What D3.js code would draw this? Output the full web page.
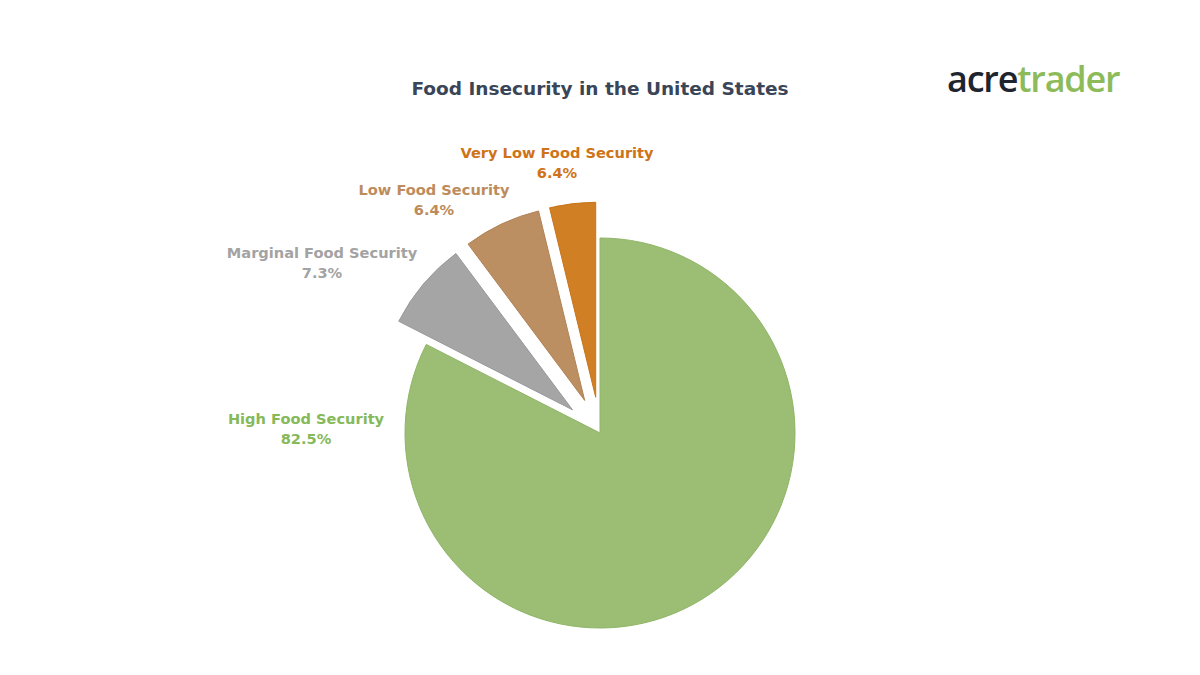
<!DOCTYPE html>
<html>
<head>
<meta charset="utf-8">
<script src="https://cdn.jsdelivr.net/npm/d3@7"></script>
<style>
  body { margin: 0; background: #fff; }
  text { font-family: "DejaVu Sans", sans-serif; font-weight: 700; }
</style>
</head>
<body>
<script>
// data
const categories = ['High Food Security', 'Marginal Food Security', 'Low Food Security', 'Very Low Food Security'];
const values = [82.5, 7.3, 6.4, 3.8];
// the labels as printed on the chart (very low says 6.4% even though the slice is smaller)
const valueLabels = ['82.5%', '7.3%', '6.4%', '6.4%'];
const fills = ['#9bbd74', '#a5a5a5', '#bc8f62', '#d17f25'];
const strokes = ['#8fb566', '#999999', '#b08255', '#c87418'];
const labelColors = ['#86b95a', '#a3a3a3', '#bd8c5c', '#cf7318'];

const width = 1200,
  height = 675;
const cx = 600,
  cy = 433,
  radius = 195,
  explode = 36;

// label anchors, relative to the pie center [dx, baseline dy]
const labelAnchors = [
  [-294, -9],
  [-278, -175],
  [-166, -238],
  [-43, -275],
];

const svg = d3
  .select('body')
  .append('svg')
  .attr('width', width)
  .attr('height', height);

svg
  .append('text')
  .attr('x', 600)
  .attr('y', 95)
  .attr('text-anchor', 'middle')
  .attr('fill', '#3a4557')
  .attr('font-size', 18.5)
  .text('Food Insecurity in the United States');

// logo
const logo = svg
  .append('text')
  .attr('x', 947)
  .attr('y', 92)
  .attr('font-size', 36)
  .attr('letter-spacing', -1.2)
  .style('font-family', '"Open Sans", sans-serif')
  .style('font-weight', 600);
logo.append('tspan').attr('fill', '#1e252e').text('acre');
logo.append('tspan').attr('fill', '#8dbb5a').text('trader');

const pie = d3.pie().sort(null).value((d) => d);
const arcs = pie(values);
const arc = d3.arc().innerRadius(0).outerRadius(radius);

const g = svg.append('g').attr('transform', `translate(${cx},${cy})`);

g.selectAll('path')
  .data(arcs)
  .join('path')
  .attr('d', arc)
  .attr('fill', (d, i) => fills[i])
  .attr('stroke', (d, i) => strokes[i])
  .attr('stroke-width', 1)
  .attr('transform', (d, i) => {
    if (i === 0) return null;
    const mid = (d.startAngle + d.endAngle) / 2;
    return `translate(${Math.sin(mid) * explode},${-Math.cos(mid) * explode})`;
  });

// one text per line so the lines don't share a box
arcs.forEach((d, i) => {
  [categories[i], valueLabels[i]].forEach((t, k) => {
    g.append('text')
      .attr('x', labelAnchors[i][0])
      .attr('y', labelAnchors[i][1] + k * 19.5)
      .attr('text-anchor', 'middle')
      .attr('font-size', 14.6)
      .attr('fill', labelColors[i])
      .text(t);
  });
});
</script>
</body>
</html>
